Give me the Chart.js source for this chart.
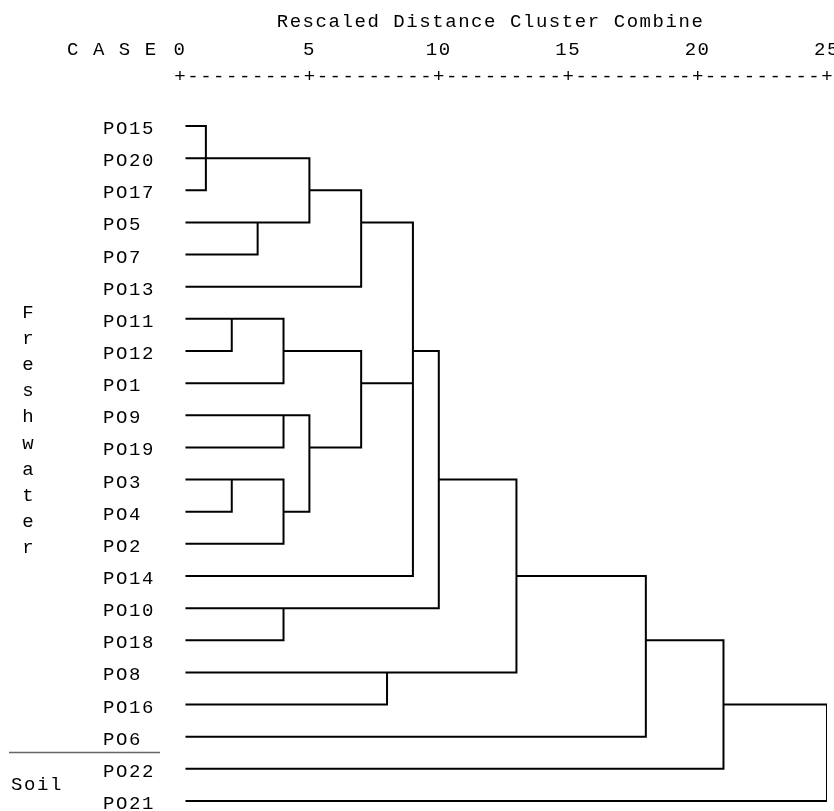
<!DOCTYPE html>
<html lang="en">
<head>
    <meta charset="UTF-8">
    <title>Rescaled Distance Cluster Combine</title>
    <script src="https://cdn.jsdelivr.net/npm/chart.js"></script>
    <style>
        body {
            margin: 0;
            background: white;
        }

        .chart-box {
            width: 834px;
            height: 811px;
        }
    </style>
</head>
<body>

    <div class="chart-box"><canvas id="dendro"></canvas></div>

    <script>
        // cases in the order they are listed down the tree
        const cases = ["PO15", "PO20", "PO17", "PO5", "PO7", "PO13", "PO11", "PO12", "PO1", "PO9", "PO19",
            "PO3", "PO4", "PO2", "PO14", "PO10", "PO18", "PO8", "PO16", "PO6", "PO22", "PO21"];

        // merges: members are case names or the index of an earlier merge
        const mergeMembers = [
            ["PO15", "PO20", "PO17"], ["PO5", "PO7"], [0, 1], [2, "PO13"],
            ["PO11", "PO12"], [4, "PO1"], ["PO9", "PO19"], ["PO3", "PO4"], [7, "PO2"],
            [6, 8], [5, 9], [3, 10, "PO14"], ["PO10", "PO18"], [11, 12],
            ["PO8", "PO16"], [13, 14], [15, "PO6"], [16, "PO22"], [17, "PO21"]
        ];
        const mergeDistance = [1, 3, 5, 7, 2, 4, 4, 2, 4, 5, 7, 9, 4, 10, 8, 13, 18, 21, 25];
        // row the joined cluster leaves from
        const mergeRow = [1, 3, 2, 3, 6, 7, 9, 11, 12, 10, 8, 7, 15, 11, 17, 14, 16, 18, 20];

        const distTicks = [0, 5, 10, 15, 20, 25];
        const groupTop = "Freshwater";
        const groupBottom = "Soil";

        const LEAF_X = 0.25;
        const MONO = "'Liberation Mono', 'DejaVu Sans Mono', monospace";
        const FONT_SIZE = 19;
        const GAP = "1.56px"; // pads the mono advance out to ~13px a char

        // build the bracket segments, broken with null points
        let links = [];
        mergeMembers.forEach((members, m) => {
            const d = mergeDistance[m];
            let rows = [];
            members.forEach(mem => {
                const isLeaf = typeof mem === "string";
                const x0 = isLeaf ? LEAF_X : mergeDistance[mem];
                const r = isLeaf ? cases.indexOf(mem) : mergeRow[mem];
                rows.push(r);
                links.push({ x: x0, y: r }, { x: d, y: r }, { x: null, y: null });
            });
            links.push({ x: d, y: Math.min(...rows) }, { x: d, y: Math.max(...rows) }, { x: null, y: null });
        });

        const spacing = {
            id: "spacing",
            beforeDraw(chart) {
                chart.ctx.letterSpacing = GAP;
            }
        };

        // header rule, side labels
        const decor = {
            id: "decor",
            afterDraw(chart) {
                const ctx = chart.ctx;
                const xs = chart.scales.x;
                const top = chart.chartArea.top;
                ctx.save();
                ctx.fillStyle = "#000";
                ctx.font = FONT_SIZE + "px " + MONO;
                ctx.textBaseline = "middle";
                ctx.letterSpacing = "0px";
                ctx.textAlign = "center";
                for (let i = 0; i < distTicks.length; i++) {
                    const p = xs.getPixelForValue(distTicks[i]);
                    ctx.fillText("+", p, top);
                    if (i < distTicks.length - 1) {
                        const q = xs.getPixelForValue(distTicks[i + 1]);
                        for (let k = 1; k < 10; k++) ctx.fillText("-", p + (q - p) * k / 10, top);
                    }
                }

                ctx.textAlign = "left";
                ctx.letterSpacing = GAP;
                ctx.fillText("C A S E", 67, 50);

                ctx.textAlign = "center";
                ctx.letterSpacing = "0px";
                groupTop.split("").forEach((ch, i) => ctx.fillText(ch, 28, 313 + i * 26.1));

                ctx.textAlign = "left";
                ctx.letterSpacing = GAP;
                ctx.fillText(groupBottom, 11, 785);

                ctx.strokeStyle = "#666";
                ctx.lineWidth = 1.5;
                ctx.beginPath();
                ctx.moveTo(9, 752.5);
                ctx.lineTo(160, 752.5);
                ctx.stroke();
                ctx.restore();
            }
        };

        new Chart(document.getElementById("dendro"), {
            type: "scatter",
            data: {
                datasets: [{
                    data: links,
                    showLine: true,
                    spanGaps: false,
                    borderColor: "#000",
                    borderWidth: 2,
                    borderCapStyle: "square",
                    pointRadius: 0,
                    pointHoverRadius: 0
                }]
            },
            options: {
                responsive: true,
                maintainAspectRatio: false,
                animation: false,
                layout: { padding: { left: 103, right: 7, top: 0, bottom: 0 } },
                plugins: {
                    legend: { display: false },
                    tooltip: { enabled: false }
                },
                scales: {
                    x: {
                        type: "linear",
                        position: "top",
                        min: 0,
                        max: 25,
                        ticks: {
                            stepSize: 5,
                            padding: 15.6,
                            color: "#000",
                            maxRotation: 0,
                            autoSkip: false,
                            font: { family: MONO, size: FONT_SIZE }
                        },
                        grid: { display: false, drawTicks: false },
                        border: { display: false },
                        title: {
                            display: true,
                            text: "Rescaled Distance Cluster Combine  ",
                            color: "#000",
                            font: { family: MONO, size: FONT_SIZE },
                            padding: { top: 10.6, bottom: 0 }
                        },
                        afterFit(s) {
                            s.height = 77;
                            s.paddingLeft = 0;
                            s.paddingRight = 0;
                        }
                    },
                    y: {
                        type: "linear",
                        reverse: true,
                        min: -1.525,
                        max: 21.311,
                        afterBuildTicks(s) {
                            s.ticks = cases.map((c, i) => ({ value: i }));
                        },
                        ticks: {
                            callback: v => cases[v],
                            crossAlign: "far",
                            padding: 0,
                            labelOffset: 3,
                            autoSkip: false,
                            color: "#000",
                            font: { family: MONO, size: FONT_SIZE }
                        },
                        grid: { display: false, drawTicks: false },
                        border: { display: false },
                        afterFit(s) {
                            s.width = 77;
                            s.paddingTop = 0;
                            s.paddingBottom = 0;
                        }
                    }
                }
            },
            plugins: [spacing, decor]
        });
    </script>

</body>
</html>
